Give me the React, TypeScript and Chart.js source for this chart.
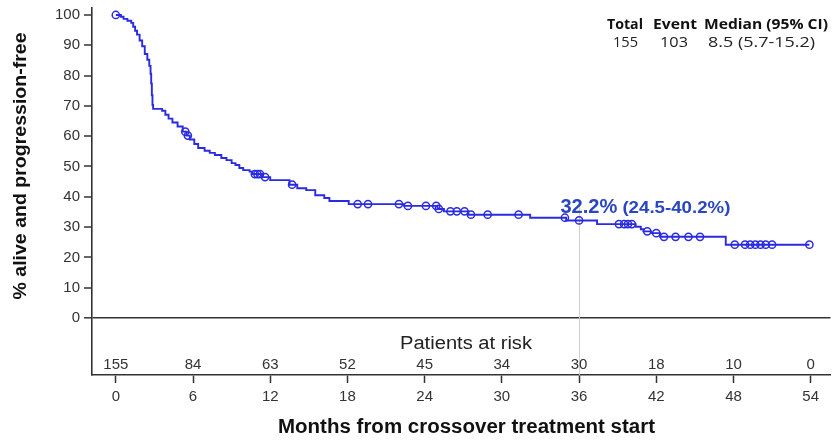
import React, { useEffect, useRef } from "react";
import { Chart, registerables } from "chart.js";

Chart.register(...registerables);

// Kaplan-Meier steps: event times (months) and survival (%) after each event
const eventMonths = [0, 0.4, 0.6, 0.9, 1.2, 1.35, 1.5, 1.65, 1.85, 2.05, 2.25, 2.45, 2.6, 2.7, 2.75, 2.8, 2.85, 2.9, 3.6, 3.85, 4.1, 4.4, 4.8, 5.2, 5.5, 5.75, 6.1, 6.4, 6.9, 7.3, 7.7, 8.2, 8.6, 9.0, 9.3, 9.6, 9.9, 10.4, 10.6, 11.4, 12.0, 13.5, 14.1, 14.8, 15.5, 16.2, 16.6, 18.1, 22.4, 25.0, 25.5, 27.4, 32.2, 35.0, 37.4, 40.4, 40.8, 41.0, 41.6, 42.3, 47.4, 53.9];
const eventSurvival = [100, 99.4, 98.7, 98.1, 97.4, 96.1, 94.8, 93.5, 91.6, 89.7, 87.1, 85.2, 83.2, 80.6, 77.4, 73.5, 70.3, 69.0, 68.4, 67.1, 65.8, 64.5, 63.2, 61.5, 60.2, 58.9, 57.4, 56.1, 55.2, 54.5, 53.8, 52.8, 52.1, 51.1, 50.5, 49.5, 48.8, 48.3, 47.5, 46.5, 45.5, 44.0, 42.8, 42.2, 40.5, 39.6, 38.6, 37.6, 37.0, 36.0, 35.2, 34.1, 33.1, 32.2, 31.0, 30.1, 29.3, 28.6, 28.0, 26.8, 24.2, 24.2];

// Censored observations
const censorMonths = [0, 5.4, 5.6, 10.8, 11.0, 11.2, 11.6, 13.7, 18.8, 19.6, 22.0, 22.7, 24.1, 24.9, 25.1, 26.0, 26.5, 27.1, 27.6, 28.9, 31.3, 34.9, 36.0, 39.1, 39.5, 39.8, 40.1, 41.3, 42.0, 42.6, 43.5, 44.5, 45.4, 48.1, 48.9, 49.3, 49.7, 50.1, 50.5, 51.0, 53.9];
const censorSurvival = [100, 61.5, 60.2, 47.5, 47.5, 47.5, 46.5, 44.0, 37.6, 37.6, 37.6, 37.0, 37.0, 37.0, 36.0, 35.2, 35.2, 35.2, 34.1, 34.1, 34.1, 33.1, 32.2, 31.0, 31.0, 31.0, 31.0, 28.6, 28.0, 26.8, 26.8, 26.8, 26.8, 24.2, 24.2, 24.2, 24.2, 24.2, 24.2, 24.2, 24.2];

const xTicks = [0, 6, 12, 18, 24, 30, 36, 42, 48, 54];
const yTicks = [0, 10, 20, 30, 40, 50, 60, 70, 80, 90, 100];
const riskCounts = [155, 84, 63, 52, 45, 34, 30, 18, 10, 0];

const statHeaders = ["Total", "Event", "Median (95% CI)"];
const statValues = ["155", "103", "8.5 (5.7-15.2)"];

const landmarkMonth = 36;
const landmarkMain = "32.2%";
const landmarkCI = "(24.5-40.2%)";

const BLUE = "#2a2ae0";
const AXIS = "#333333";

function fitText(ctx: CanvasRenderingContext2D, text: string, x: number, y: number, width: number, font: string, align: CanvasTextAlign, color: string, rotate = false) {
  ctx.save();
  ctx.font = font;
  ctx.fillStyle = color;
  ctx.textAlign = align;
  ctx.textBaseline = "middle";
  const w = ctx.measureText(text).width;
  const s = width / w;
  ctx.translate(x, y);
  if (rotate) ctx.rotate(-Math.PI / 2);
  ctx.scale(s, 1);
  ctx.fillText(text, 0, 0);
  ctx.restore();
}

const overlayPlugin = {
  id: "kmOverlay",
  beforeDatasetsDraw(chart: any) {
    const ctx = chart.ctx;
    const xs = chart.scales.x;
    const ys = chart.scales.y;
    ctx.save();
    ctx.strokeStyle = "#cfcfcf";
    ctx.lineWidth = 1;
    const lx = Math.round(xs.getPixelForValue(landmarkMonth)) + 0.5;
    ctx.beginPath();
    ctx.moveTo(lx, ys.getPixelForValue(36.5));
    ctx.lineTo(lx, chart.chartArea.bottom);
    ctx.stroke();
    ctx.restore();
  },
  afterDraw(chart: any) {
    const ctx = chart.ctx;
    const xs = chart.scales.x;
    const ys = chart.scales.y;
    const sans = "'Liberation Sans', Arial, sans-serif";
    fitText(ctx, "Patients at risk", 466, 344, 132, `18px ${sans}`, "center", "#222");
    const ry = ys.getPixelForValue(-15.5);
    riskCounts.forEach((c, i) => {
      ctx.save();
      ctx.font = `15px ${sans}`;
      ctx.fillStyle = AXIS;
      ctx.textAlign = "center";
      ctx.textBaseline = "middle";
      ctx.fillText(String(c), xs.getPixelForValue(xTicks[i]), ry);
      ctx.restore();
    });
    fitText(ctx, "Months from crossover treatment start", 466.5, 427, 377, `bold 20px ${sans}`, "center", "#111");
    fitText(ctx, "% alive and progression-free", 21, 166, 267, `bold 18px ${sans}`, "center", "#111", true);
    const tf = "'Open Sans', 'Noto Sans', sans-serif";
    const hc = [625, 675, 766];
    const hw = [36, 44, 124];
    statHeaders.forEach((h, i) => fitText(ctx, h, hc[i], 25, hw[i], `bold 14px ${tf}`, "center", "#111"));
    const vc = [625.5, 674, 761.5];
    const vw = [25, 28, 107];
    statValues.forEach((v, i) => fitText(ctx, v, vc[i], 43, vw[i], `14px ${tf}`, "center", "#222"));
    const lx = xs.getPixelForValue(34.55);
    const lyv = ys.getPixelForValue(36.6);
    fitText(ctx, landmarkMain, lx, lyv, 57, `bold 20px ${sans}`, "left", "#2a46c0");
    fitText(ctx, landmarkCI, lx + 62, lyv + 1, 108, `bold 17px ${sans}`, "left", "#2a46c0");
  },
};

export default function App() {
  const ref = useRef<HTMLCanvasElement>(null);
  useEffect(() => {
    document.body.style.margin = "0";
    const lineData = eventMonths.map((m, i) => ({ x: m, y: eventSurvival[i] }));
    const censorData = censorMonths.map((m, i) => ({ x: m, y: censorSurvival[i] }));
    const chart = new Chart(ref.current!, {
      type: "line",
      data: {
        datasets: [
          {
            data: lineData,
            borderColor: BLUE,
            borderWidth: 1.9,
            stepped: true,
            pointRadius: 0,
            fill: false,
          },
          {
            data: censorData,
            showLine: false,
            borderColor: BLUE,
            backgroundColor: "rgba(0,0,0,0)",
            pointStyle: "circle",
            pointRadius: 3.6,
            pointBorderWidth: 1.5,
          },
        ],
      },
      options: {
        animation: false,
        responsive: false,
        maintainAspectRatio: false,
        layout: { padding: { top: 8, left: 0, right: 0, bottom: 0 } },
        plugins: { legend: { display: false }, tooltip: { enabled: false } },
        scales: {
          x: {
            type: "linear",
            min: -1.85,
            max: 55.54,
            afterBuildTicks: (s: any) => {
              s.ticks = xTicks.map((v) => ({ value: v }));
            },
            afterFit: (s: any) => {
              s.height = 66;
              s.paddingLeft = 0;
              s.paddingRight = 0;
            },
            grid: { drawOnChartArea: false, tickLength: 8, tickColor: AXIS, tickWidth: 1.5 },
            border: { display: true, color: AXIS, width: 1.6 },
            ticks: {
              autoSkip: false,
              maxRotation: 0,
              padding: 5,
              color: AXIS,
              font: { family: "'Liberation Sans', Arial, sans-serif", size: 15 },
            },
          },
          y: {
            type: "linear",
            min: -18.8,
            max: 102.3,
            afterBuildTicks: (s: any) => {
              s.ticks = yTicks.map((v) => ({ value: v }));
            },
            afterFit: (s: any) => {
              s.width = 92;
              s.paddingTop = 0;
              s.paddingBottom = 0;
            },
            grid: {
              drawOnChartArea: true,
              tickLength: 8,
              tickColor: AXIS,
              tickWidth: 1.5,
              color: (c: any) => (c.tick && c.tick.value === 0 ? AXIS : "rgba(0,0,0,0)"),
              lineWidth: (c: any) => (c.tick && c.tick.value === 0 ? 1.6 : 0),
            },
            border: { display: true, color: AXIS, width: 1.6 },
            ticks: {
              autoSkip: false,
              padding: 4,
              color: AXIS,
              font: { family: "'Liberation Sans', Arial, sans-serif", size: 15 },
            },
          },
        },
      },
      plugins: [overlayPlugin],
    });
    return () => chart.destroy();
  }, []);
  return (
    <div style={{ width: 836, height: 441, background: "#fff" }}>
      <canvas ref={ref} width={836} height={441} style={{ display: "block", width: 836, height: 441 }} />
    </div>
  );
}
